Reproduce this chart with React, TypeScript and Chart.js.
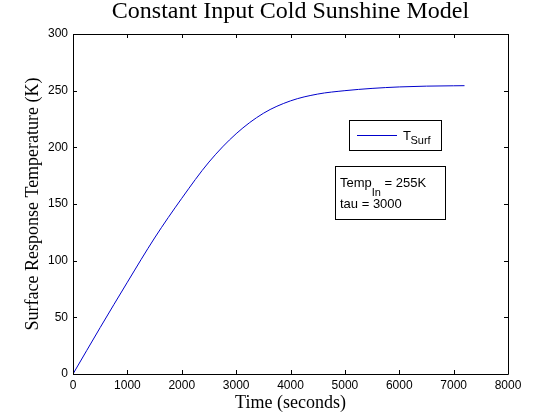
import { useEffect, useRef } from 'react'
import { Chart, registerables } from 'chart.js'

Chart.register(...registerables)

// time in seconds, surface response temperature in K
const timeSeconds = [0, 500, 1000, 1500, 2000, 2500, 3000, 3500, 4000, 4500, 5000, 5500, 6000, 6500, 7000, 7200]
const surfaceTemp = [0, 41, 81, 120, 155, 187, 212, 230, 241, 247, 250, 252, 253.3, 254, 254.3, 254.4]

const xTickValues = [0, 1000, 2000, 3000, 4000, 5000, 6000, 7000, 8000]
const yTickValues = [0, 50, 100, 150, 200, 250, 300]

const SANS = '"Liberation Sans", Arial, sans-serif'
const SERIF = '"Liberation Serif", "Times New Roman", serif'
const LINE_COLOR = '#0000cc'

// MATLAB-style box with inward ticks on all four sides, legend and text note
const matlabFrame = {
  id: 'matlabFrame',
  afterDraw(chart: Chart) {
    const { ctx, chartArea: a } = chart
    const xs = chart.scales.x
    const ys = chart.scales.y
    const tick = 4
    ctx.save()
    ctx.strokeStyle = '#000'
    ctx.lineWidth = 1
    ctx.beginPath()
    ctx.rect(Math.round(a.left) + 0.5, Math.round(a.top) + 0.5, Math.round(a.right - a.left), Math.round(a.bottom - a.top))
    xTickValues.forEach(v => {
      const px = Math.round(xs.getPixelForValue(v)) + 0.5
      ctx.moveTo(px, a.bottom)
      ctx.lineTo(px, a.bottom - tick)
      ctx.moveTo(px, a.top)
      ctx.lineTo(px, a.top + tick)
    })
    yTickValues.forEach(v => {
      const py = Math.round(ys.getPixelForValue(v)) + 0.5
      ctx.moveTo(a.left, py)
      ctx.lineTo(a.left + tick, py)
      ctx.moveTo(a.right, py)
      ctx.lineTo(a.right - tick, py)
    })
    ctx.stroke()

    // legend
    ctx.fillStyle = '#fff'
    ctx.fillRect(349.5, 120.5, 92, 30)
    ctx.strokeRect(349.5, 120.5, 92, 30)
    ctx.strokeStyle = LINE_COLOR
    ctx.beginPath()
    ctx.moveTo(357, 135.5)
    ctx.lineTo(397, 135.5)
    ctx.stroke()
    ctx.fillStyle = '#000'
    ctx.textBaseline = 'alphabetic'
    ctx.textAlign = 'left'
    ctx.font = `13px ${SANS}`
    ctx.fillText('T', 403, 139.5)
    ctx.font = `11px ${SANS}`
    ctx.fillText('Surf', 410.5, 144)

    // text note
    ctx.strokeStyle = '#000'
    ctx.fillStyle = '#fff'
    ctx.fillRect(335.5, 166.5, 110, 53)
    ctx.strokeRect(335.5, 166.5, 110, 53)
    ctx.fillStyle = '#000'
    ctx.font = `13px ${SANS}`
    ctx.fillText('Temp', 340, 187)
    const w1 = ctx.measureText('Temp').width
    ctx.font = `11px ${SANS}`
    ctx.fillText('In', 340 + w1, 196)
    const w2 = ctx.measureText('In').width
    ctx.font = `13px ${SANS}`
    ctx.fillText(' = 255K', 340 + w1 + w2, 187)
    ctx.fillText('tau = 3000', 340, 207.5)
    ctx.restore()
  }
}

export default function App() {
  const chartRef = useRef<HTMLCanvasElement>(null)

  useEffect(() => {
    if (!chartRef.current) return
    const ctx = chartRef.current.getContext('2d')
    if (!ctx) return

    const points = timeSeconds.map((t, i) => ({ x: t, y: surfaceTemp[i] }))

    const chart = new Chart(ctx, {
      type: 'line',
      data: {
        datasets: [
          {
            label: 'T_Surf',
            data: points,
            borderColor: LINE_COLOR,
            borderWidth: 1,
            pointRadius: 0,
            fill: false,
            cubicInterpolationMode: 'monotone'
          }
        ]
      },
      options: {
        animation: false,
        responsive: true,
        maintainAspectRatio: false,
        devicePixelRatio: 1,
        layout: { padding: { left: 0, right: 52, top: 0, bottom: 0 } },
        plugins: {
          legend: { display: false },
          tooltip: { enabled: false },
          title: {
            display: true,
            text: 'Constant Input Cold Sunshine Model',
            color: '#000',
            fullSize: false,
            font: { family: SERIF, size: 24, weight: 'normal', lineHeight: 1 },
            padding: { top: 0, bottom: 10 }
          }
        },
        scales: {
          x: {
            type: 'linear',
            min: 0,
            max: 8000,
            afterBuildTicks: scale => {
              scale.ticks = xTickValues.map(v => ({ value: v }))
            },
            afterFit: scale => {
              scale.height = 46
            },
            grid: { display: false, drawTicks: false, tickLength: 0 },
            border: { display: false },
            ticks: {
              color: '#000',
              padding: 4,
              maxRotation: 0,
              autoSkip: false,
              font: { family: SANS, size: 12 },
              callback: v => String(v)
            },
            title: {
              display: true,
              text: 'Time (seconds)',
              color: '#000',
              font: { family: SERIF, size: 18 },
              padding: { top: 0, bottom: 6 }
            }
          },
          y: {
            type: 'linear',
            min: 0,
            max: 300,
            afterBuildTicks: scale => {
              scale.ticks = yTickValues.map(v => ({ value: v }))
            },
            afterFit: scale => {
              scale.width = 73
            },
            grid: { display: false, drawTicks: false, tickLength: 0 },
            border: { display: false },
            ticks: {
              color: '#000',
              padding: 5,
              autoSkip: false,
              font: { family: SANS, size: 12 },
              callback: v => String(v)
            },
            title: {
              display: true,
              text: 'Surface Response Temperature (K)',
              color: '#000',
              font: { family: SERIF, size: 18 },
              padding: { top: 22, bottom: 0 }
            }
          }
        }
      },
      plugins: [matlabFrame]
    })

    return () => chart.destroy()
  }, [])

  return (
    <div style={{ position: 'fixed', left: 0, top: 0, width: 560, height: 420, background: '#fff' }}>
      <canvas ref={chartRef} />
    </div>
  )
}
